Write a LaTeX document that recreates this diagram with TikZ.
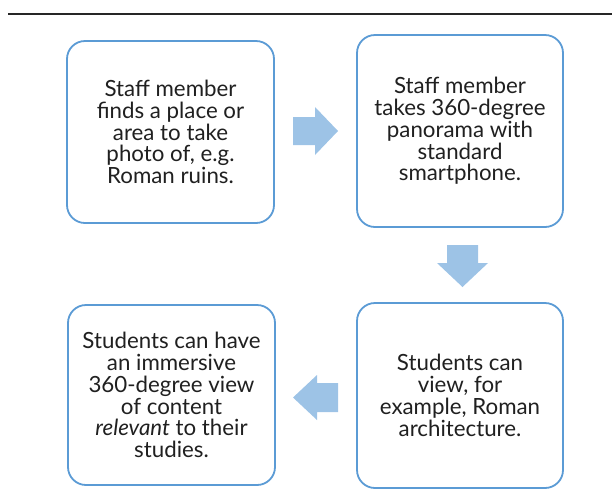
\documentclass[tikz,border=0pt]{standalone}
\usepackage{fontspec}
\setmainfont{Lato}
\tikzset{
  stepbox/.style={draw=boxblue, line width=1.8pt, rounded corners=18pt, fill=white,
    align=center, text=textgray, font=\fontsize{22.3}{21.8}\selectfont, inner sep=0pt},
  blockarrow/.style={fill=arrowblue, draw=none},
  rule/.style={draw=rulegray, line width=1.8pt}
}
\definecolor{boxblue}{HTML}{5B9BD5}
\definecolor{arrowblue}{HTML}{9DC3E6}
\definecolor{textgray}{HTML}{202020}
\definecolor{rulegray}{HTML}{262626}
\begin{document}
\begin{tikzpicture}[x=1pt,y=-1pt]
\useasboundingbox (0,0) rectangle (612,499);
\coordinate (rl) at (8,14);
\coordinate (rr) at (612,14);
\draw[rule] (rl) -- (rr);

\node[stepbox, minimum width=207pt, minimum height=182pt] (b1) at (170.5,132)
  {Staff member\\finds a place or\\area to take\\photo of, e.g.\\Roman ruins.};
\node[stepbox, minimum width=206pt, minimum height=192pt] (b2) at (460,131)
  {Staff member\\takes 360-degree\\panorama with\\standard\\smartphone.};
\node[stepbox, minimum width=206pt, minimum height=185pt] (b4) at (460,395.5)
  {Students can\\view, for\\example, Roman\\architecture.};
\node[stepbox, minimum width=207pt, minimum height=180pt] (b3) at (171.5,395)
  {Students can have\\an immersive\\360-degree view\\of content\\\textit{relevant} to their\\studies.};

% right arrow b1 -> b2
\fill[blockarrow] (293,117) -- (315,117) -- (315,107) -- (338,131) -- (315,155) -- (315,145) -- (293,145) -- cycle;
% down arrow b2 -> b4
\fill[blockarrow] (447,245) -- (478,245) -- (478,263) -- (488,263) -- (462.5,287) -- (437,263) -- (447,263) -- cycle;
% left arrow b4 -> b3
\fill[blockarrow] (338,383) -- (317,383) -- (317,375) -- (293,397.5) -- (317,420) -- (317,412) -- (338,412) -- cycle;
\end{tikzpicture}
\end{document}
